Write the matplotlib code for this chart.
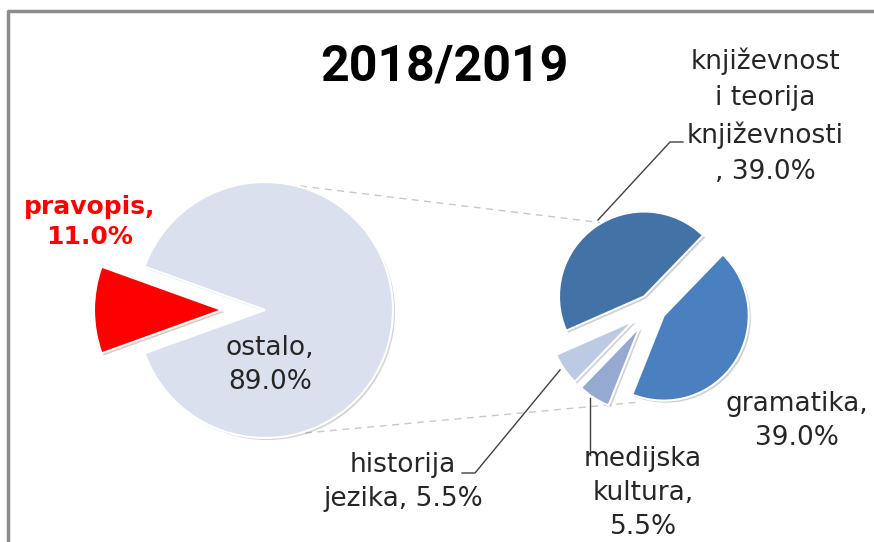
import matplotlib
matplotlib.use("Agg")
import matplotlib.pyplot as plt
import matplotlib.patheffects as pe

# data
left_labels = ["ostalo", "pravopis"]
left_values = [89.0, 11.0]
right_labels = ["književnost i teorija književnosti", "historija jezika", "medijska kultura", "gramatika"]
right_values = [39.0, 5.5, 5.5, 39.0]

W, H = 874, 542
fig = plt.figure(figsize=(W / 100, H / 100), dpi=100)
ax = fig.add_axes([0, 0, 1, 1])


def Y(y):
    # pixel row -> data y
    return H - y


shadow = [pe.SimplePatchShadow(offset=(1.5, -1.5), alpha=0.22), pe.Normal()]

# left pie (explode is in data units here)
wl, _ = ax.pie(left_values, colors=["#DAE0EE", "#FF0000"], explode=[0, 43],
               startangle=-160.2, counterclock=True, center=(265, Y(310)), radius=128,
               wedgeprops=dict(edgecolor="white", linewidth=1.5), frame=True)
for w in wl:
    w.set_path_effects(shadow)

# right pie
wr, _ = ax.pie(right_values, colors=["#4372A6", "#BDCAE3", "#96A9D1", "#4A80BF"],
               explode=[14, 22, 22, 14], startangle=46, counterclock=True,
               center=(652, Y(308)), radius=85,
               wedgeprops=dict(edgecolor="white", linewidth=1.5), frame=True)
for w in wr:
    w.set_path_effects(shadow)

# connector lines between pies
ax.plot([300, 612], [Y(186), Y(224)], color="#C8C8C8", lw=1, ls=(0, (5, 4)), zorder=0)
ax.plot([305, 640], [Y(433), Y(402)], color="#C8C8C8", lw=1, ls=(0, (5, 4)), zorder=0)

# leader lines
ax.plot([683, 670, 598], [Y(142), Y(142), Y(220)], color="#404040", lw=1)
ax.plot([462, 475, 560], [Y(473), Y(473), Y(370)], color="#404040", lw=1)
ax.plot([590, 590], [Y(398), Y(455)], color="#404040", lw=1)

fs = 19
ls = 1.38
ax.text(444, Y(67), "2018/2019", fontsize=36, fontweight="bold", family=["Roboto", "DejaVu Sans"],
        ha="center", va="center", color="black")
ax.text(90, Y(222), "pravopis,\n11.0%", fontsize=18, fontweight="bold", color="#FF0000",
        ha="center", va="center", linespacing=1.3)
ax.text(270, Y(365), "ostalo,\n89.0%", fontsize=fs, color="#262626",
        ha="center", va="center", linespacing=ls)
ax.text(765, Y(116), "književnost\ni teorija\nknjiževnosti\n, 39.0%", fontsize=fs, color="#262626",
        ha="center", va="center", linespacing=1.5)
ax.text(797, Y(421), "gramatika,\n39.0%", fontsize=fs, color="#262626",
        ha="center", va="center", linespacing=ls)
ax.text(643, Y(493), "medijska\nkultura,\n5.5%", fontsize=fs, color="#262626",
        ha="center", va="center", linespacing=ls)
ax.text(403, Y(482), "historija\njezika, 5.5%", fontsize=fs, color="#262626",
        ha="center", va="center", linespacing=ls)

# chart border
ax.plot([8, 8, W + 5], [-5, Y(11), Y(11)], color="#8C8C8C", lw=2.5)

ax.set_xlim(0, W)
ax.set_ylim(0, H)
ax.set_aspect("equal")
ax.axis("off")

fig.savefig("out.png", dpi=100)
